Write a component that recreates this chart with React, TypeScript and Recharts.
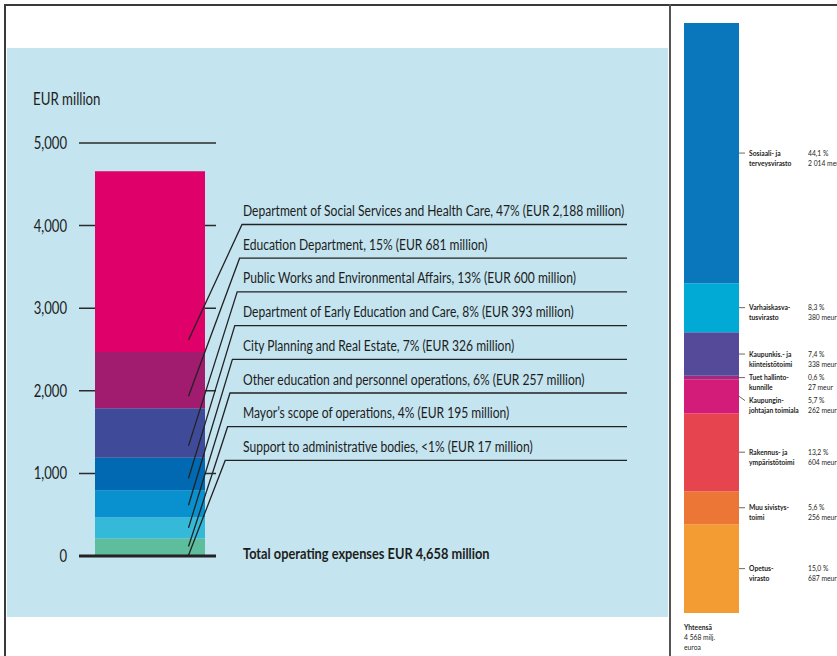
import React from "react";
import { BarChart, Bar, XAxis, YAxis, CartesianGrid, ReferenceLine, LabelList } from "recharts";

const FONT = "Lato, 'Liberation Sans', Arial, sans-serif";
const INK = "#1d1d1b";

// left chart, top segment first
const deptNames = [
  "Department of Social Services and Health Care",
  "Education Department",
  "Public Works and Environmental Affairs",
  "Department of Early Education and Care",
  "City Planning and Real Estate",
  "Other education and personnel operations",
  "Mayor’s scope of operations",
  "Support to administrative bodies",
];
const deptValues = [2188, 681, 600, 393, 326, 257, 195, 17];
const deptColors = ["#e0006a", "#a11c6f", "#3f4b98", "#0069b1", "#0890cf", "#35b9d8", "#5dbd9c", "#3a4a8c"];
const deptTotal = 4658;
const yTicks = [0, 1000, 2000, 3000, 4000, 5000];
const axisTitle = "EUR million";

// right panel (finnish version), top segment first
const fiNames = [
  ["Sosiaali- ja", "terveysvirasto"],
  ["Varhaiskasva-", "tusvirasto"],
  ["Kaupunkis.- ja", "kiinteistötoimi"],
  ["Tuet hallinto-", "kunnille"],
  ["Kaupungin-", "johtajan toimiala"],
  ["Rakennus- ja", "ympäristötoimi"],
  ["Muu sivistys-", "toimi"],
  ["Opetus-", "virasto"],
];
const fiValues = [2014, 380, 338, 27, 262, 604, 256, 687];
const fiColors = ["#0a77bd", "#00aad5", "#554a99", "#a3287f", "#d31b79", "#e6444f", "#ec7635", "#f39c34"];
const fiTotal = 4568;

const fmtEn = (n: number) => n.toLocaleString("en-US");
const fmtFi = (n: number) => String(n).replace(/\B(?=(\d{3})+(?!\d))/g, " ");

const deptRow: any = { cat: "2016" };
deptValues.forEach((v, i) => (deptRow["d" + i] = v));
const fiRow: any = { cat: "2015" };
fiValues.forEach((v, i) => (fiRow["f" + i] = v));

// the source type is a condensed face, so squeeze it a bit
const Txt = ({ x, y, size, bold, anchor, sx = 0.755, children }: any) => (
  <text
    transform={`translate(${x},${y}) scale(${sx},1)`}
    fontSize={size}
    fontWeight={bold ? 700 : 400}
    textAnchor={anchor || "start"}
    fontFamily={FONT}
    fill={INK}
  >
    {children}
  </text>
);

const deptText = (i: number) => {
  const p = (deptValues[i] / deptTotal) * 100;
  const pct = p < 1 ? "<1%" : Math.round(p) + "%";
  return `${deptNames[i]}, ${pct} (EUR ${fmtEn(deptValues[i])} million)`;
};

// leader line from inside the segment up to an underlined label
const deptLabel = (i: number) => (p: any) => {
  const x = Number(p.x), y = Number(p.y), w = Number(p.width), h = Number(p.height);
  const ex = x + w * 0.85;
  const ey = Math.max(y + h / 2, y + h - 12);
  const uy = 176.5 + i * 33.7;
  const ux = 235 - i * 2.4;
  return (
    <g>
      <polyline points={`${ex},${ey} ${ux},${uy} 620,${uy}`} fill="none" stroke="#222" strokeWidth={1.3} />
      <Txt x={236} y={uy - 8.5} size={16}>{deptText(i)}</Txt>
    </g>
  );
};

const sum = (a: number[]) => a.reduce((s, v) => s + v, 0);

const fiLabel = (i: number) => (p: any) => {
  const x = Number(p.x), y = Number(p.y), w = Number(p.width), h = Number(p.height);
  const per = h / fiValues[i];
  const top0 = y - per * sum(fiValues.slice(0, i));
  // push labels down so they do not overlap the one above
  let prev = -Infinity;
  let ly = 0;
  for (let k = 0; k <= i; k++) {
    const mid = top0 + per * (sum(fiValues.slice(0, k)) + fiValues[k] / 2);
    const pos = Math.max(mid, prev + 23);
    prev = pos;
    if (k === i) ly = pos;
  }
  const mid = y + h / 2;
  const rx = x + w;
  const pct = ((fiValues[i] / fiTotal) * 100).toFixed(1).replace(".", ",") + " %";
  return (
    <g>
      <line x1={rx} y1={mid} x2={rx + 6} y2={ly} stroke="#444" strokeWidth={0.8} />
      <Txt x={rx + 10} y={ly + 2.5} size={7.5} sx={0.9} bold>{fiNames[i][0]}</Txt>
      <Txt x={rx + 10} y={ly + 12.5} size={7.5} sx={0.9} bold>{fiNames[i][1]}</Txt>
      <Txt x={rx + 69} y={ly + 2.5} size={7.5} sx={0.9}>{pct}</Txt>
      <Txt x={rx + 69} y={ly + 12.5} size={7.5} sx={0.9}>{fmtFi(fiValues[i])} meur</Txt>
    </g>
  );
};

const YTick = (p: any) => (
  <Txt x={p.x} y={Number(p.y) + 6} size={17} sx={0.77} anchor="end">
    {fmtEn(p.payload.value)}
  </Txt>
);

export default function App() {
  const leftOrder = deptValues.map((_, i) => deptValues.length - 1 - i);
  const rightOrder = fiValues.map((_, i) => fiValues.length - 1 - i);
  return (
    <div style={{ position: "absolute", left: 0, top: 0, width: 837, height: 656, overflow: "hidden", background: "#fff" }}>
      <div style={{ position: "absolute", left: 4, top: 4, width: 840, height: 660, borderTop: "2px solid #3a3a3a", borderLeft: "2px solid #3a3a3a" }} />
      <div style={{ position: "absolute", left: 669, top: 4, width: 2, height: 652, background: "#555" }} />
      <div style={{ position: "absolute", left: 7, top: 48, width: 661, height: 569, background: "#c4e4f0" }}>
        <BarChart width={661} height={569} data={[deptRow]} margin={{ top: 95, right: 452, bottom: 61, left: 0 }}>
          <CartesianGrid vertical={false} stroke="#2b2b2b" strokeWidth={1.5} />
          <XAxis dataKey="cat" hide padding={{ left: 5, right: 0 }} />
          <YAxis
            width={72}
            domain={[0, 5000]}
            ticks={yTicks}
            tickLine={false}
            axisLine={false}
            tickSize={0}
            tickMargin={12}
            tick={YTick}
          />
          {leftOrder.map((i) => (
            <Bar key={i} dataKey={"d" + i} stackId="a" fill={deptColors[i]} barSize={110} isAnimationActive={false}>
              <LabelList content={deptLabel(i)} />
            </Bar>
          ))}
          <ReferenceLine y={0} stroke="#222" strokeWidth={3} />
        </BarChart>
      </div>
      <div style={{ position: "absolute", left: 672, top: 0 }}>
        <BarChart width={240} height={656} data={[fiRow]} margin={{ top: 23, right: 173, bottom: 43, left: 12 }} barCategoryGap={0}>
          <XAxis dataKey="cat" hide />
          <YAxis hide domain={[0, fiTotal]} />
          {rightOrder.map((i) => (
            <Bar key={i} dataKey={"f" + i} stackId="b" fill={fiColors[i]} isAnimationActive={false}>
              <LabelList content={fiLabel(i)} />
            </Bar>
          ))}
        </BarChart>
      </div>
      <svg width={837} height={656} style={{ position: "absolute", left: 0, top: 0, pointerEvents: "none" }}>
        <Txt x={33} y={105} size={17} sx={0.78}>{axisTitle}</Txt>
        <Txt x={243} y={558.5} size={16} sx={0.8} bold>{`Total operating expenses EUR ${fmtEn(deptTotal)} million`}</Txt>
        <Txt x={684} y={629.5} size={7.5} sx={0.9} bold>Yhteensä</Txt>
        <Txt x={684} y={639.5} size={7.5} sx={0.9}>{`${fmtFi(fiTotal)} milj.`}</Txt>
        <Txt x={684} y={649.5} size={7.5} sx={0.9}>euroa</Txt>
      </svg>
    </div>
  );
}
